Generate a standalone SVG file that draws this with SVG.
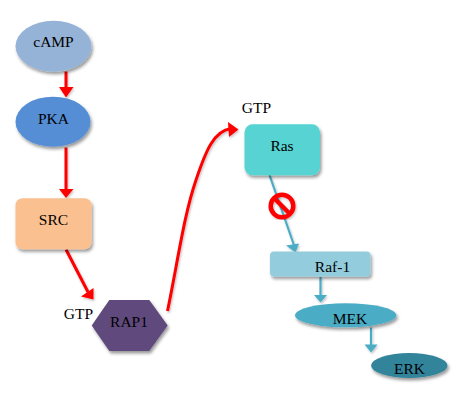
<svg xmlns="http://www.w3.org/2000/svg" width="473" height="410" viewBox="0 0 473 410">
<style>
text{font-family:"Liberation Serif","Times New Roman",serif;font-size:15.5px;fill:#000;text-anchor:middle}
.r{fill:none;stroke:#fe0000;stroke-width:3}
.b{fill:none;stroke:#4bacc6;stroke-width:2.2}
.rh{fill:#fe0000}
.bh{fill:#4bacc6}
</style>
<defs>
<filter id="s" x="-20%" y="-20%" width="150%" height="150%"><feDropShadow dx="1.5" dy="2.5" stdDeviation="1.6" flood-color="#000" flood-opacity="0.4"/></filter>
<filter id="l" x="-30%" y="-10%" width="160%" height="120%"><feDropShadow dx="1" dy="1.5" stdDeviation="1.2" flood-color="#000" flood-opacity="0.25"/></filter>
</defs>
<g id="connectors">
<g filter="url(#l)">
<path class="r" d="M66 71.5V89"/><path class="rh" d="M59 87H73.5L66 97.5Z"/>
<path class="r" d="M66 147.5V190"/><path class="rh" d="M59 189H73.5L66 198Z"/>
<path class="r" d="M66 249.5L88 292"/><path class="rh" d="M81 296.5L93.5 288L93.5 299.5Z"/>
<path class="r" d="M167.5 311C178 260 184 215 196 180C206 150 214 131 231 128.5"/><path class="rh" d="M228 122L238.5 129.5L229 137Z"/>
</g>
<g filter="url(#l)">
<path class="b" d="M269.5 175L295 248"/><path class="bh" d="M286 245.5L299 243.5L295.5 252.5Z"/>
<path class="b" d="M320.5 277V296"/><path class="bh" d="M314 295H327L320.5 302.5Z"/>
<path class="b" d="M371 327.500V346"/><path class="bh" d="M364.500 344.500H377.500L371 352.500Z"/>
</g>
</g>
<g id="cAMP"><ellipse cx="53.500" cy="46.200" rx="38" ry="25.500" fill="#95b3d7" filter="url(#s)"/><text x="53.500" y="46.500">cAMP</text></g>
<g id="PKA"><ellipse cx="53" cy="121.700" rx="37.500" ry="25" fill="#558ed5" filter="url(#s)"/><text x="53.500" y="124">PKA</text></g>
<g id="SRC"><rect x="15.500" y="198.300" width="76" height="51" rx="7" fill="#fac090" filter="url(#s)"/><text x="53.500" y="225">SRC</text></g>
<g id="RAP1"><path d="M91.700 325.500L109.300 300H149.300L167.700 325.500L149.300 351H109.300Z" fill="#604a7b" filter="url(#s)"/><text x="129" y="326.500">RAP1</text></g>
<text x="78.500" y="319">GTP</text>
<text x="256.500" y="112.500">GTP</text>
<g id="Ras"><rect x="244.500" y="124.300" width="75.500" height="51" rx="8" fill="#57d3d2" filter="url(#s)"/><text x="282" y="150.500">Ras</text></g>
<g id="Raf-1"><rect x="270" y="251.500" width="100.500" height="25" rx="4" fill="#93cddd" filter="url(#s)"/><text x="332.500" y="272">Raf-1</text></g>
<g id="MEK"><ellipse cx="345.700" cy="315.300" rx="50.700" ry="12" fill="#4bacc6" filter="url(#s)"/><text x="350" y="323.500">MEK</text></g>
<g id="ERK"><ellipse cx="409.300" cy="365.500" rx="38.200" ry="12.500" fill="#31849b" filter="url(#s)"/><text x="409.500" y="374">ERK</text></g>
<g id="inhibit" filter="url(#l)"><circle cx="282" cy="206" r="11.300" fill="none" stroke="#fe0000" stroke-width="4.500"/><path d="M274 198L290 214" stroke="#fe0000" stroke-width="4.500"/></g>
</svg>
